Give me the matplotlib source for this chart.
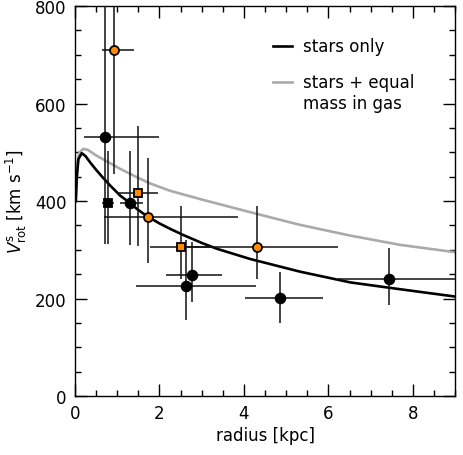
import numpy as np
import matplotlib
matplotlib.use("Agg")
import matplotlib.pyplot as plt
from matplotlib.ticker import MultipleLocator

# model curves
r_stars = [0.02, 0.04, 0.08, 0.16, 0.25, 0.36, 0.50, 0.67, 0.83, 1.07, 1.30, 1.46,
           1.72, 2.00, 2.25, 2.57, 3.00, 3.36, 4.15, 5.33, 6.52, 7.70, 9.00]
v_stars = [400, 445, 486, 498, 492, 479, 464, 447, 432, 411, 396, 384,
           368, 354, 343, 330, 314, 302, 281, 255, 233, 219, 204]

r_gas = [0.02, 0.05, 0.10, 0.20, 0.30, 0.51, 0.80, 1.07, 1.46, 1.78, 2.25,
         2.96, 4.15, 5.33, 6.52, 7.70, 9.00]
v_gas = [410, 470, 500, 507, 505, 493, 479, 466, 449, 436, 421,
         404, 377, 351, 329, 310, 295]

# black filled circles
bc_r = [0.71, 1.30, 2.62, 2.76, 4.86, 7.43]
bc_v = [532, 396, 225, 248, 201, 240]
bc_rlo = [0.21, 1.07, 1.44, 2.15, 4.03, 6.22]
bc_rhi = [2.00, 1.60, 4.29, 3.49, 5.86, 9.50]
bc_vlo = [312, 310, 156, 193, 150, 187]
bc_vhi = [950, 503, 319, 315, 255, 303]

# black filled square
bs_r = [0.77]
bs_v = [396]
bs_rlo = [0.65]
bs_rhi = [0.92]
bs_vlo = [312]
bs_vhi = [503]

# orange squares
os_r = [1.49, 2.51]
os_v = [416, 306]
os_rlo = [1.00, 1.78]
os_rhi = [1.97, 3.24]
os_vlo = [307, 240]
os_vhi = [553, 390]

# orange circles
oc_r = [0.93, 1.72, 4.31]
oc_v = [710, 368, 306]
oc_rlo = [0.63, 0.69, 2.42]
oc_rhi = [1.40, 3.87, 6.22]
oc_vlo = [455, 273, 241]
oc_vhi = [950, 488, 389]

orange = '#ff8c00'

fig = plt.figure(figsize=(4.63, 4.56), dpi=100)
ax = fig.add_axes([0.162, 0.1294, 0.821, 0.8552])

ax.plot(r_gas, v_gas, color='#aaaaaa', lw=1.9, zorder=2)
ax.plot(r_stars, v_stars, color='black', lw=1.9, zorder=3)


def err(x, y, xlo, xhi, ylo, yhi):
    x = np.array(x); y = np.array(y)
    xe = [x - np.array(xlo), np.array(xhi) - x]
    ye = [y - np.array(ylo), np.array(yhi) - y]
    return xe, ye


def draw(x, y, xlo, xhi, ylo, yhi, marker, fc, ms):
    xe, ye = err(x, y, xlo, xhi, ylo, yhi)
    ax.errorbar(x, y, xerr=xe, yerr=ye, fmt='none', ecolor='#111111',
                elinewidth=1.1, capsize=0, zorder=4)
    ax.plot(x, y, ls='none', marker=marker, ms=ms, mfc=fc, mec='black',
            mew=1.3, zorder=5)


draw(bc_r, bc_v, bc_rlo, bc_rhi, bc_vlo, bc_vhi, 'o', 'black', 7.0)
draw(bs_r, bs_v, bs_rlo, bs_rhi, bs_vlo, bs_vhi, 's', 'black', 5.5)
draw(os_r, os_v, os_rlo, os_rhi, os_vlo, os_vhi, 's', orange, 5.5)
draw(oc_r, oc_v, oc_rlo, oc_rhi, oc_vlo, oc_vhi, 'o', orange, 6.5)

ax.set_xlim(0, 9)
ax.set_ylim(0, 800)
ax.xaxis.set_major_locator(MultipleLocator(2))
ax.xaxis.set_minor_locator(MultipleLocator(0.5))
ax.yaxis.set_major_locator(MultipleLocator(200))
ax.yaxis.set_minor_locator(MultipleLocator(50))
ax.tick_params(which='both', direction='in', top=True, right=True,
               width=1.0, labelsize=12)
ax.tick_params(which='major', length=8.5, pad=6)
ax.tick_params(which='minor', length=4)
for s in ax.spines.values():
    s.set_linewidth(1.0)

ax.set_xlabel('radius [kpc]', fontsize=12, labelpad=3)
ax.set_ylabel(r'$V^{\rm s}_{\rm rot}$ [km s$^{-1}$]', fontsize=12, labelpad=4)

# legend drawn by hand so the grey line sits on the first text line
ax.plot([0.520, 0.570], [0.897, 0.897], color='black', lw=1.9, transform=ax.transAxes)
ax.text(0.601, 0.897, 'stars only', fontsize=12, va='center', transform=ax.transAxes)
ax.plot([0.520, 0.570], [0.804, 0.804], color='#aaaaaa', lw=1.9, transform=ax.transAxes)
ax.text(0.601, 0.779, 'stars + equal\nmass in gas', fontsize=12, va='center',
        linespacing=1.2, transform=ax.transAxes)

fig.savefig('out.png', dpi=100)
